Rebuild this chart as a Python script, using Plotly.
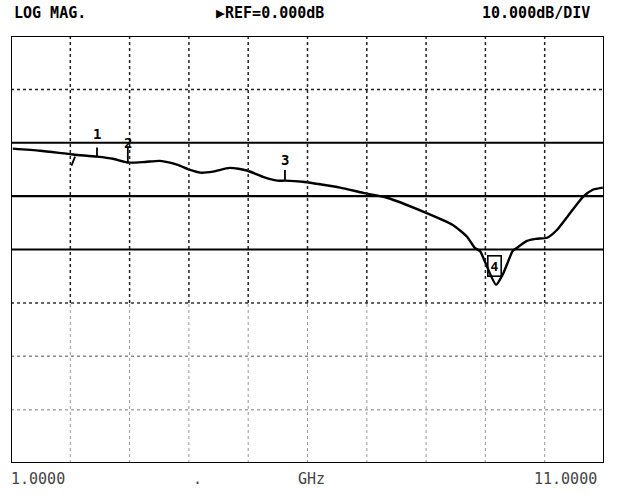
import plotly.graph_objects as go

# ---- data ----
freq_ghz = [1.03, 1.49, 2.05, 2.45, 2.72, 2.97, 3.26, 3.51, 3.80, 4.02, 4.19, 4.41,
            4.69, 4.98, 5.25, 5.49, 5.62, 5.92, 6.16, 6.55, 6.94, 7.34, 7.95, 8.45,
            8.69, 8.82, 8.91, 9.00, 9.18, 9.30, 9.46, 9.53, 9.70, 9.85, 10.04, 10.21,
            10.38, 10.65, 10.81, 10.98]
mag_db = [-1.1, -1.5, -2.2, -2.6, -3.0, -3.7, -3.6, -3.4, -4.1, -5.1, -5.6, -5.4,
          -4.7, -5.2, -6.4, -7.1, -7.1, -7.3, -7.7, -8.4, -9.4, -10.3, -12.9, -15.4,
          -17.6, -19.7, -20.3, -22.5, -26.6, -24.5, -20.3, -19.7, -18.4, -18.0, -17.8, -16.3,
          -13.9, -10.1, -8.8, -8.4]

marker_freq = [2.45, 2.97, 5.62]
marker_db = [-2.6, -3.7, -7.1]
marker_label = ["1", "2", "3"]
marker_label_db = [1.6, 0.0, -3.3]
marker_tick_top_db = [-0.9, -0.9, -5.1]

marker4_freq = 9.15
marker4_db = -23.0

x_range = [1, 11]
y_range = [-60, 20]
x_grid = [2, 3, 4, 5, 6, 7, 8, 9, 10]
y_grid_dotted = [10, -30, -40, -50]
y_grid_solid = [0, -10, -20]

header_texts = ["LOG MAG.", "\u25b6REF=0.000dB", "10.000dB/DIV"]
footer_texts = ["1.0000", ".", "GHz", "11.0000"]

# plot-area pixel geometry (for placing paper-referenced text)
L, R, T, B = 11, 604, 36, 463
def px_to_paper_x(px):
    return (px - L) / (R - L)
def py_to_paper_y(py):
    return (B - py) / (B - T)

fig = go.Figure()

shapes = []
for f in x_grid:
    shapes.append(dict(type="line", xref="x", yref="y", x0=f, x1=f, y0=-30, y1=y_range[1],
                       line=dict(color="#222", width=1.5, dash="dot")))
    shapes.append(dict(type="line", xref="x", yref="y", x0=f, x1=f, y0=y_range[0], y1=-30,
                       line=dict(color="#999", width=1, dash="dot")))
hcol = {10: "#222", -30: "#333", -40: "#888", -50: "#aaa"}
for v in y_grid_dotted:
    shapes.append(dict(type="line", xref="x", yref="y", x0=x_range[0], x1=x_range[1], y0=v, y1=v,
                       line=dict(color=hcol[v], width=1.5, dash="dot")))
for v in y_grid_solid:
    shapes.append(dict(type="line", xref="x", yref="y", x0=x_range[0], x1=x_range[1], y0=v, y1=v,
                       line=dict(color="black", width=2.2)))
shapes.append(dict(type="rect", xref="x", yref="y", x0=x_range[0], x1=x_range[1],
                   y0=y_range[0], y1=y_range[1], line=dict(color="black", width=2)))

fig.add_trace(go.Scatter(x=freq_ghz, y=mag_db, mode="lines",
                         line=dict(color="black", width=2.4, shape="spline", smoothing=0.6),
                         showlegend=False, hoverinfo="skip"))

for f, d, t in zip(marker_freq, marker_db, marker_tick_top_db):
    fig.add_trace(go.Scatter(x=[f, f], y=[d, t], mode="lines",
                             line=dict(color="black", width=1.8), showlegend=False, hoverinfo="skip"))
fig.add_trace(go.Scatter(x=[2.08, 2.02], y=[-2.6, -4.3], mode="lines",
                         line=dict(color="black", width=1.8), showlegend=False, hoverinfo="skip"))

fig.add_trace(go.Scatter(x=[0.93], y=[0], mode="markers", cliponaxis=False,
                         marker=dict(symbol="triangle-right", size=11, color="black"),
                         showlegend=False, hoverinfo="skip"))

annotations = []
for f, lab, ld in zip(marker_freq, marker_label, marker_label_db):
    annotations.append(dict(x=f, y=ld, xref="x", yref="y", text=lab, showarrow=False,
                            font=dict(family="DejaVu Sans Mono", size=14, color="black",
                                      weight="bold")))
annotations.append(dict(x=marker4_freq, y=marker4_db, xref="x", yref="y", text="4",
                        showarrow=False, bordercolor="black", borderwidth=1.6, borderpad=2,
                        font=dict(family="DejaVu Sans Mono", size=13, color="black",
                                  weight="bold")))

header_x = [50, 270, 536]
for t, xp in zip(header_texts, header_x):
    annotations.append(dict(x=px_to_paper_x(xp), y=py_to_paper_y(13), xref="paper", yref="paper",
                            text=t, showarrow=False, xanchor="center", yanchor="middle",
                            font=dict(family="DejaVu Sans Mono", size=15, color="black",
                                      weight="bold")))
footer_x = [38, 197, 311, 565]
for t, xp in zip(footer_texts, footer_x):
    annotations.append(dict(x=px_to_paper_x(xp), y=py_to_paper_y(479), xref="paper", yref="paper",
                            text=t, showarrow=False, xanchor="center", yanchor="middle",
                            font=dict(family="DejaVu Sans Mono", size=15, color="#444")))

fig.update_layout(
    width=620, height=498, autosize=False,
    margin=dict(l=L, r=620 - R, t=T, b=498 - B),
    paper_bgcolor="white", plot_bgcolor="white",
    xaxis=dict(range=x_range, showgrid=False, zeroline=False, showticklabels=False,
               ticks="", showline=False, fixedrange=True),
    yaxis=dict(range=y_range, showgrid=False, zeroline=False, showticklabels=False,
               ticks="", showline=False, fixedrange=True),
    shapes=shapes, annotations=annotations, showlegend=False,
)

fig.write_html("out.html", config={"displayModeBar": False},
               post_script="document.body.style.margin='0';")
